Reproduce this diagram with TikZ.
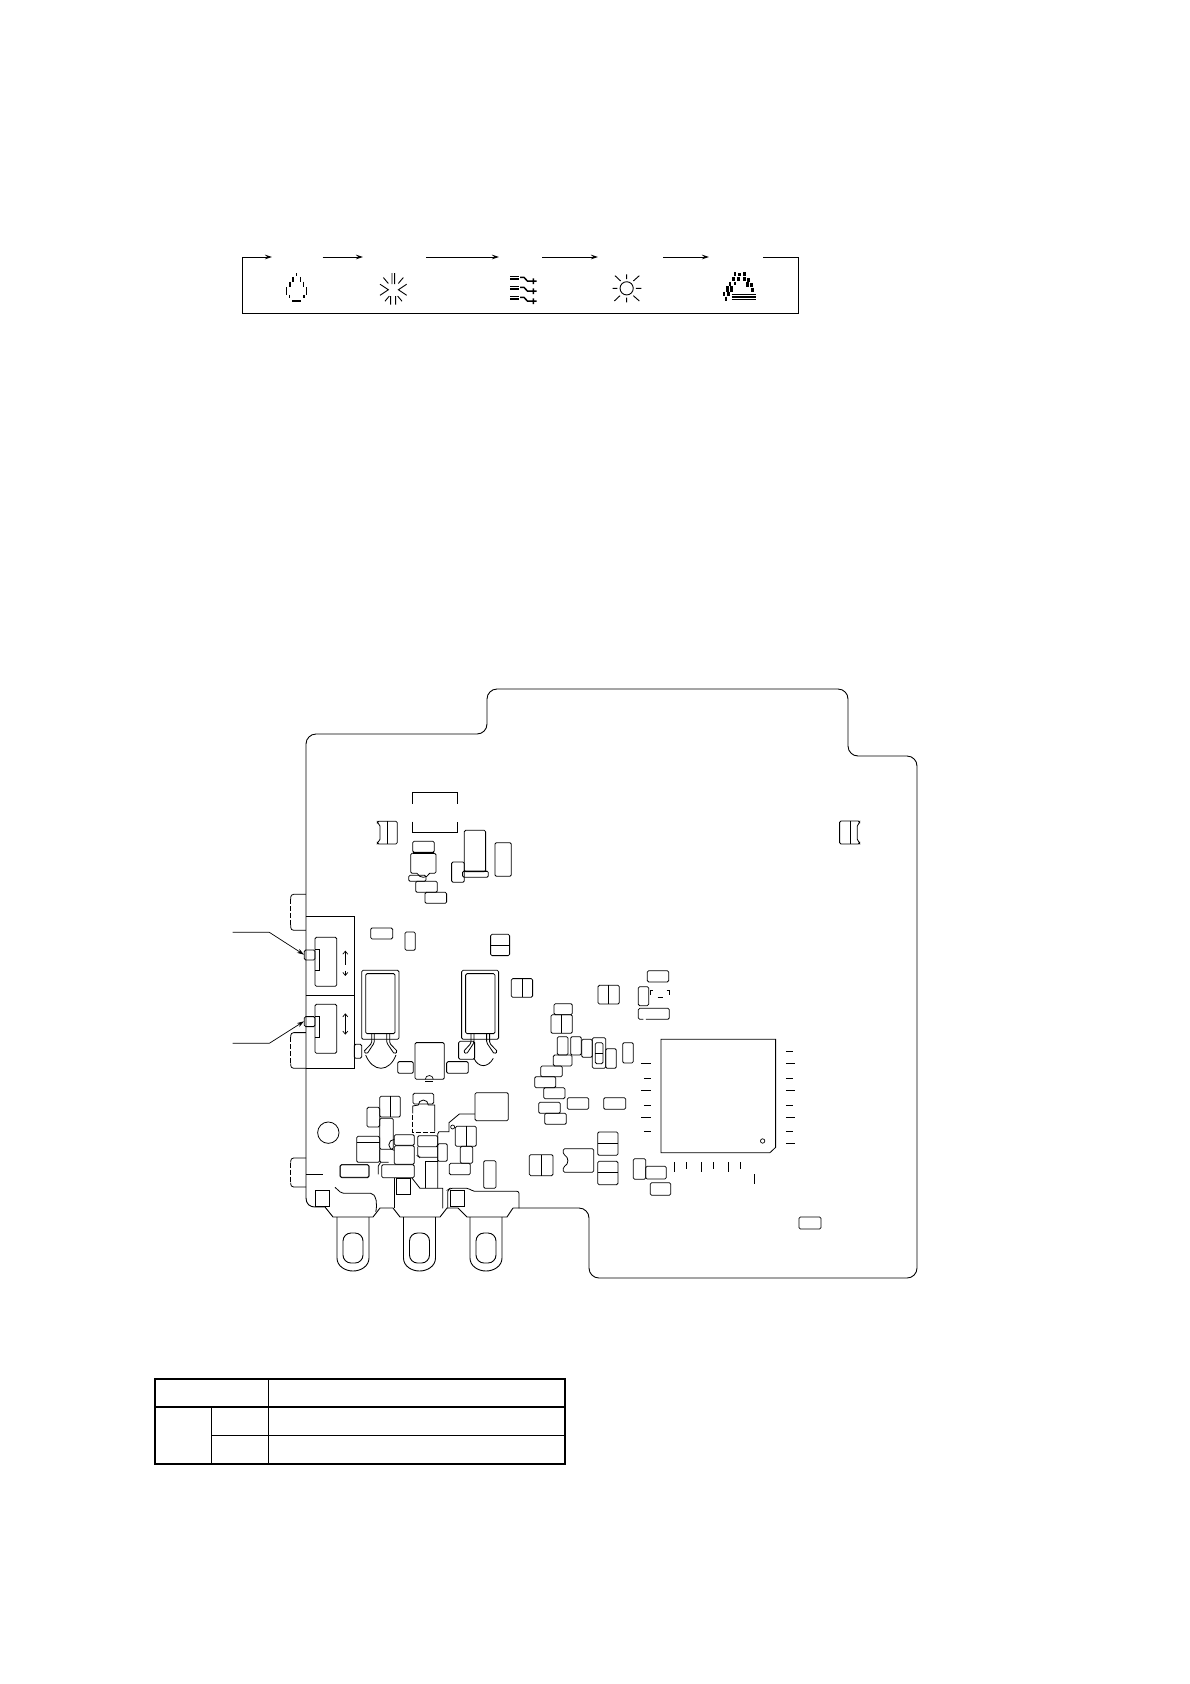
\documentclass[tikz,border=0pt]{standalone}
\usetikzlibrary{arrows.meta}
\tikzset{
  part/.style={line width=0.8pt,black,rounded corners=1.4pt},
  sharp/.style={line width=0.8pt,black},
  outline/.style={line width=0.9pt,black},
  dsh/.style={line width=0.8pt,black,dash pattern=on 5pt off 2pt},
  flow/.style={line width=0.8pt,black,-{Stealth[length=7pt,width=4.5pt]}},
  pix/.style={line width=1.4pt,black},
  thin line/.style={line width=0.9pt,black},
  tab/.style={line width=1.1pt,black},
  tabo/.style={line width=2pt,black},
  z2/.style={shift={(220,680)},x=0.3333pt,y=-0.3333pt},
  z3/.style={shift={(280,1060)},x=0.3333pt,y=-0.3333pt},
  z4/.style={shift={(500,960)},x=0.3333pt,y=-0.3333pt},
  z5/.style={shift={(140,1360)},x=0.3333pt,y=-0.3333pt},
  z6/.style={shift={(480,680)},x=0.3333pt,y=-0.3333pt},
  z7/.style={shift={(270,262)},x=0.3333pt,y=-0.37pt},
  z8/.style={shift={(500,265)},x=0.3333pt,y=-0.3333pt},
  z9/.style={shift={(340,1080)},x=0.3333pt,y=-0.3333pt},
}
\newcommand{\Rb}[4]{\draw[part] (#1,#2) rectangle (#3,#4);}
\newcommand{\Rv}[5]{\draw[part] (#1,#2) rectangle (#3,#4); \draw[sharp] (#5,#2) -- (#5,#4);}
\newcommand{\Rh}[5]{\draw[part] (#1,#2) rectangle (#3,#4); \draw[sharp] (#1,#5) -- (#3,#5);}
\newcommand{\Sq}[4]{\draw[sharp] (#1,#2) rectangle (#3,#4);}
\begin{document}
\begin{tikzpicture}[x=1pt,y=-1pt]
\useasboundingbox (0,0) rectangle (1190,1684);
\fill[white] (0,0) rectangle (1190,1684);

% ---------- banner
\coordinate (bTL) at (242,257);
\coordinate (bBL) at (242,313.5);
\coordinate (bBR) at (798,313.5);
\coordinate (bTR) at (798,257);
\coordinate (a1) at (272,257);
\coordinate (a2s) at (322.5,257); \coordinate (a2e) at (363,257);
\coordinate (a3s) at (426,257);   \coordinate (a3e) at (499,257);
\coordinate (a4s) at (542,257);   \coordinate (a4e) at (598,257);
\coordinate (a5s) at (663,257);   \coordinate (a5e) at (709,257);
\coordinate (a6s) at (763,257);
\draw[outline] (bTL) -- (bBL) -- (bBR) -- (bTR) -- (a6s);
\draw[flow] (bTL) -- (a1);
\draw[flow] (a2s) -- (a2e);
\draw[flow] (a3s) -- (a3e);
\draw[flow] (a4s) -- (a4e);
\draw[flow] (a5s) -- (a5e);

% drop icon
\begin{scope}[z7]
\draw[pix] (80,30)--(80,39) (69,40)--(69,53) (91,40)--(91,53) (60,53)--(60,67) (100,53)--(100,67)
  (50,68)--(50,88) (110,68)--(110,88) (58,88)--(58,98) (102,88)--(102,98);
\draw[line width=2.2pt] (67,105)--(93,105);
% snow icon
\draw[thin line] (366,30)--(366,60) (374,30)--(374,60) (355,58)--(340,42) (385,58)--(400,42)
  (330,60)--(355,75)--(330,90) (410,60)--(385,75)--(410,90)
  (362,92)--(362,115) (377,92)--(377,115) (345,106)--(358,92) (396,106)--(383,92);
\end{scope}
\begin{scope}[z8]
\foreach \d in {0,30,60}{
  \draw[line width=1.4pt] (30,34+\d)--(56,34+\d) (30,42+\d)--(56,42+\d);
  \draw[line width=1.5pt] (60,37+\d)--(72,37+\d)--(82,48+\d)--(110,48+\d) (100,40+\d)--(100,57+\d);
}
% sun icon
\draw[thin line] (380,70) circle (6.6pt);
\draw[thin line] (380,28)--(380,42) (380,98)--(380,112) (338,70)--(352,70) (408,70)--(424,70)
  (400,48)--(418,32) (362,48)--(345,32) (400,92)--(418,108) (360,92)--(343,108);
% defrost icon
\draw[line width=2.4pt] (705,22)--(705,32) (733,22)--(733,32) (719,24)--(719,34)
  (700,36)--(700,47) (715,36)--(715,47) (733,36)--(733,47) (745,40)--(745,50)
  (690,50)--(690,62) (705,50)--(705,60) (742,52)--(742,65) (755,55)--(755,65)
  (683,63)--(683,80) (695,63)--(695,80) (758,68)--(758,80)
  (672,80)--(672,92) (685,80)--(685,92) (678,95)--(678,107);
\draw[line width=1.2pt] (695,88)--(768,88) (695,96)--(768,96);
\draw[line width=1.4pt] (695,103)--(768,103);
\end{scope}

% ---------- board outline
\draw[outline,rounded corners=10pt]
  (306,1198) -- (306,734) -- (487,734) -- (487,689) -- (848,689) -- (848,756) -- (917,756) -- (917,1278) -- (589,1278) -- (589,1208) -- (513,1208);
\draw[outline] (315,1207) -- (325,1207) -- (333,1217) -- (373,1217) -- (380,1208) -- (393,1208) -- (400,1217) -- (440,1217) -- (447,1208) -- (458,1208) -- (467,1217) -- (507,1217) -- (513,1208);
\draw[outline] (306,1198) .. controls (306,1204) and (310,1207) .. (315,1207);
% lugs and slots
\foreach \lx in {337,403.5,470}{
  \draw[outline] (\lx,1217) -- (\lx,1258) .. controls (\lx,1266) and (\lx+8,1271) .. (\lx+16,1271) .. controls (\lx+24,1271) and (\lx+32,1266) .. (\lx+32,1258) -- (\lx+32,1217);
  \draw[outline,rounded corners=8pt] (\lx+6,1233) rectangle (\lx+26,1263);
}

% ---------- upper left part of the board
\begin{scope}[z2]
\draw[sharp] (577,372)--(577,338)--(713,338)--(713,372) (577,425)--(577,458)--(713,458)--(713,425);
\draw[part] (472,424)--(532,424)--(532,492)--(472,492)--(472,486)--(480,482)--(480,434)--(472,430)--cycle;
\draw[sharp] (503,424)--(503,492);
\Rb{578}{484}{643}{517}
\draw[part] (572,520)--(648,520)--(648,580)--(625,580) arc[start angle=0,end angle=180,x radius=5pt,y radius=-4pt] --(572,580)--cycle;
\draw[line width=1.3pt] (578,519)--(643,519);
\Rb{566}{586}{618}{604}\Rb{587}{604}{652}{637}\Rb{615}{637}{680}{670}
\Rb{733}{451}{797}{575}\Rb{695}{546}{733}{607}\Rb{728}{573}{805}{592}
\draw[line width=1.4pt] (732,575)--(800,575);
\Rb{825}{488}{874}{589}
% dashed tabs
\draw[sharp,rounded corners=3pt] (258,643)--(212,643)--(212,658);
\draw[dsh] (212,658)--(212,735);
\draw[sharp,rounded corners=3pt] (212,735)--(212,751)--(258,751);
\draw[sharp,rounded corners=3pt] (258,1058)--(212,1058)--(212,1072);
\draw[dsh] (212,1072)--(212,1150);
\draw[sharp,rounded corners=3pt] (212,1150)--(212,1165)--(258,1165);
% switch box
\draw[sharp] (258,709)--(403,709)--(403,1165)--(258,1165) (258,946)--(403,946);
\Rb{285}{772}{350}{919}
\draw[sharp] (285,809)--(299,809)--(299,871)--(285,871);
\Rb{253}{810}{285}{840}
\Rb{285}{973}{350}{1120}
\draw[sharp] (285,1010)--(299,1010)--(299,1072)--(285,1072);
\Rb{253}{1010}{285}{1040}
\coordinate (sw1a) at (376,855); \coordinate (sw1b) at (376,812);
\coordinate (sw1c) at (376,872); \coordinate (sw1d) at (376,888);
\coordinate (sw2a) at (376,1000); \coordinate (sw2b) at (376,1064);
\draw[line width=0.7pt,-{Straight Barb[length=3pt,width=5pt]}] (sw1a)--(sw1b);
\draw[line width=0.7pt,-{Straight Barb[length=3pt,width=5pt]}] (sw1c)--(sw1d);
\draw[line width=0.7pt,{Straight Barb[length=3pt,width=5pt]}-{Straight Barb[length=3pt,width=5pt]}] (sw2a)--(sw2b);
% leaders
\coordinate (l1a) at (38,757); \coordinate (l1b) at (148,757); \coordinate (l1c) at (252,824);
\coordinate (l2a) at (38,1090); \coordinate (l2b) at (148,1090); \coordinate (l2c) at (252,1024);
\draw[line width=0.7pt,-{Stealth[length=7pt,width=4.5pt]}] (l1a)--(l1b)--(l1c);
\draw[line width=0.7pt,-{Stealth[length=7pt,width=4.5pt]}] (l2a)--(l2b)--(l2c);
% electrolytic capacitors
\Rb{425}{871}{537}{1078}\Rb{437}{881}{525}{1061}
\draw[part] (455,1061)--(455,1090)--(431,1115)--(441,1122)--(463,1088)--(463,1061);
\draw[part] (500,1061)--(500,1088)--(523,1122)--(533,1115)--(509,1090)--(509,1061);
\draw[sharp] (437,1125) .. controls (447,1150) and (465,1165) .. (483,1165) .. controls (501,1165) and (519,1150) .. (528,1125);
\Rb{725}{871}{836}{1078}\Rb{737}{881}{825}{1061}
\draw[part] (753,1061)--(753,1090)--(730,1115)--(740,1122)--(762,1088)--(762,1061);
\draw[part] (800,1061)--(800,1088)--(823,1122)--(833,1115)--(809,1090)--(809,1061);
\draw[sharp] (762,1135) .. controls (768,1150) and (780,1157) .. (790,1157) .. controls (800,1157) and (812,1150) .. (820,1135);
\Rb{716}{1084}{764}{1138}
\Rb{403}{1093}{425}{1135}
\Rb{533}{1145}{580}{1180}\Rb{585}{1088}{673}{1198}\Rb{680}{1145}{745}{1180}
\draw[line width=0.7pt] (616,1198) arc[start angle=180,end angle=360,x radius=4pt,y radius=-3.8pt];
\draw[line width=0.7pt] (616,1203)--(640,1203);
\Rb{452}{744}{518}{777}\Rb{555}{756}{586}{811}
\Rh{812}{763}{869}{827}{795}
\Rv{874}{896}{938}{952}{906}
\end{scope}

% top right clip
\begin{scope}[z6]
\draw[part] (1079,423)--(1139,423)--(1139,430)--(1132,434)--(1132,482)--(1139,486)--(1139,492)--(1079,492)--cycle;
\draw[sharp] (1110,423)--(1110,492);
\end{scope}

% ---------- right middle part
\begin{scope}[z4]
\Rv{294}{76}{358}{132}{326}
\Rb{442}{32}{506}{66}\Rb{415}{80}{446}{137}
\draw[sharp] (452,105)--(452,92)--(460,92) (500,92)--(508,92)--(508,105) (473,112)--(490,112);
\draw[part] (430,178)--(415,178)--(415,145)--(508,145)--(508,178)--(438,178);
\Rb{162}{131}{217}{164}
\Rv{153}{164}{217}{220}{185}
\Rb{172}{230}{204}{285}\Rb{212}{230}{244}{285}\Rb{245}{238}{277}{292}\Rb{277}{233}{317}{325}
\Rh{286}{248}{309}{311}{280}
\Rb{317}{266}{349}{325}\Rb{368}{248}{400}{309}
\Rb{160}{285}{216}{318}\Rb{122}{318}{187}{350}\Rb{104}{350}{167}{383}\Rb{131}{383}{195}{416}
\Rb{116}{427}{181}{460}\Rb{134}{460}{199}{493}\Rb{202}{413}{266}{448}\Rb{311}{413}{377}{448}
% main chip
\draw[sharp] (483,238)--(827,238)--(827,562)--(810,578)--(483,578)--cycle;
\draw[line width=0.7pt] (788,543) circle (2.2pt);
\foreach \y/\x in {311/424,355/432,391/424,436/432,472/424,515/432}{\draw[sharp] (\x,\y)--(452,\y);}
\foreach \y/\x in {275/878,311/886,355/878,391/886,436/878,472/886,515/878,551/886}{\draw[sharp] (858,\y)--(\x,\y);}
\foreach \x/\y in {523/635,560/627,604/635,640/627,684/635,720/627}{\draw[sharp] (\x,607)--(\x,\y);}
\draw[sharp] (764,643)--(764,671);
\Rh{293}{516}{354}{586}{550}
\Rh{293}{604}{354}{674}{638}
\draw[part] (190,566)--(281,566)--(281,637)--(190,637)--(190,621) .. controls (207,612) and (207,592) .. (190,583)--cycle;
\Rv{88}{584}{159}{647}{124}
\Rb{400}{596}{437}{658}\Rb{437}{619}{499}{657}\Rb{451}{668}{512}{706}
\end{scope}
\draw[part] (799,1217) rectangle (821,1229);

% ---------- crowded bottom left part
\begin{scope}[z9]
\Rv{119}{49}{181}{111}{150}
\Rb{81}{82}{119}{141}
\Rb{119}{115}{160}{208}
\Rb{163}{164}{223}{196}
\draw[part] (163,197)--(223,197)--(223,253)--(163,253)--cycle;
\draw[sharp] (163,211) arc[start angle=90,end angle=270,x radius=5.5pt,y radius=-5.5pt];
\Rh{50}{169}{119}{247}{187}
\draw[part] (119,208)--(119,247)--(146,247);
\Rb{1}{254}{87}{293}
\draw[sharp,rounded corners=2pt] (119,250)--(115,252)--(115,283);
\Rb{125}{254}{223}{293}
\Rb{219}{40}{281}{72}
\draw[sharp] (218,100)--(218,78)--(235,75) arc[start angle=180,end angle=360,x radius=5pt,y radius=-5pt] --(284,75)--(284,155);
\draw[dsh] (218,104)--(218,157)--(284,157);
\Rb{405}{38}{505}{122}
\draw[sharp] (405,102)--(358,102)--(327,128)--(327,155)--(297,155)--(293,162)--(293,325);
\draw[line width=0.7pt] (338,141) circle (2pt);
\Rv{346}{139}{409}{199}{378}
\Rb{361}{199}{398}{250}\Rb{328}{250}{391}{284}\Rb{431}{242}{468}{325}
\Rb{233}{167}{293}{200}
\draw[part] (233,200)--(233,228)--(238,232)--(293,232);
\Rb{293}{191}{322}{244}
\draw[sharp] (256,325)--(256,243)--(293,243);
\Sq{169}{295}{212}{343}
\draw[sharp] (215,293)--(240,325)--(308,325)--(308,385);
\draw[sharp] (163,293)--(163,383);
\end{scope}
\begin{scope}[z3]
\draw[sharp] (343,445)--(343,380);
\draw[sharp,rounded corners=2pt] (503,445)--(503,390)--(510,385)--(567,385)--(578,394)--(717,394)--(717,445);
\Sq{512}{391}{554}{439}
\draw[sharp,rounded corners=2pt] (165,382)--(185,400)--(278,400)--(288,415)--(290,445)--(287,455);
\Sq{106}{391}{149}{439}
\draw[sharp] (78,342)--(130,342);
\draw[sharp,rounded corners=3pt] (78,294)--(32,294)--(32,308);
\draw[dsh] (32,308)--(32,368);
\draw[sharp,rounded corners=3pt] (32,368)--(32,381)--(78,381);
\draw[sharp] (145,218) circle (10.7pt);
\Rb{180}{314}{267}{352}
\end{scope}

% ---------- table
\begin{scope}[z5]
\draw[tab] (45,141)--(1275,141) (214,226)--(1275,226) (385,56)--(385,311) (214,141)--(214,311);
\draw[tabo] (45,56) rectangle (1275,311);
\end{scope}
\end{tikzpicture}
\end{document}
